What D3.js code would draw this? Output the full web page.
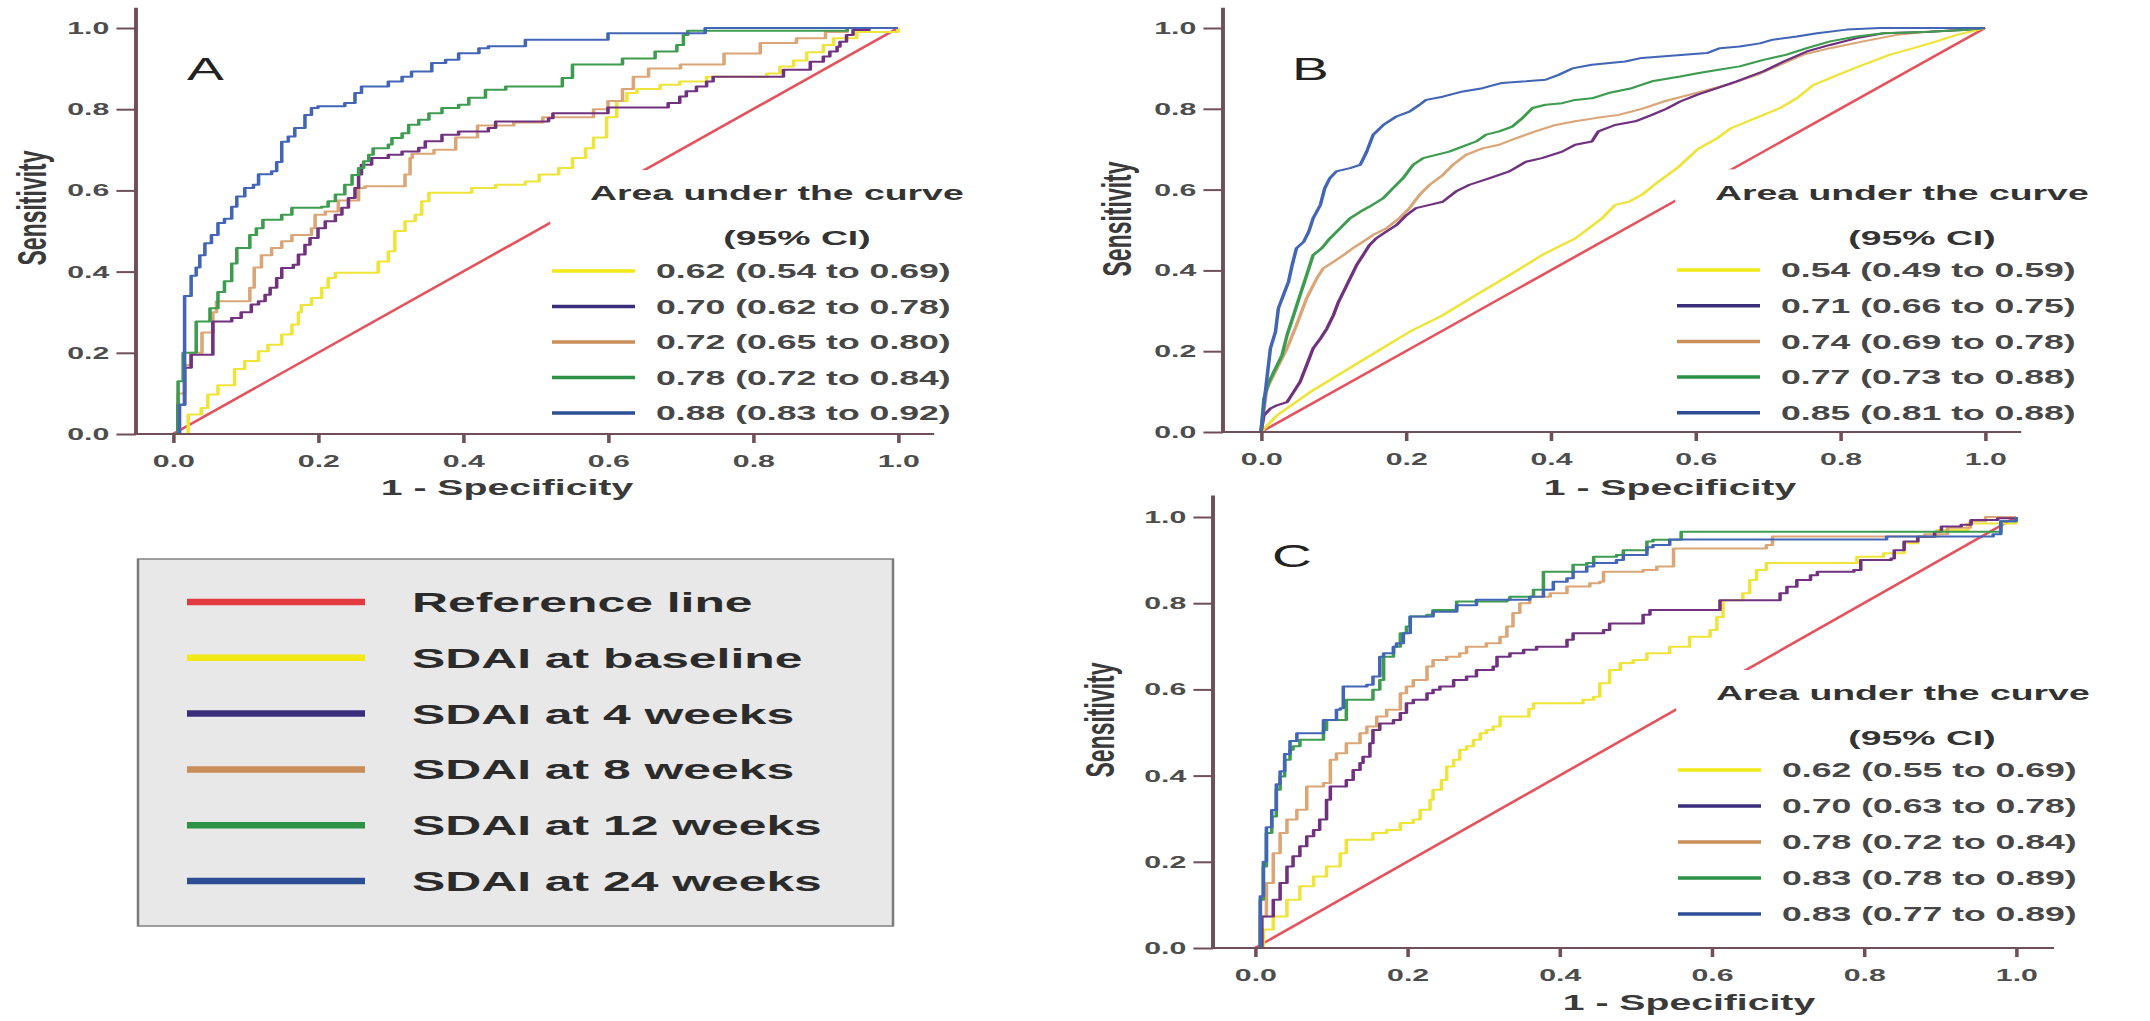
<!DOCTYPE html>
<html lang="en">
<head>
<meta charset="UTF-8">
<title>ROC curves of SDAI</title>
<script src="https://cdn.jsdelivr.net/npm/d3@7"></script>
<style>
  body { margin: 0; background: #fff; }
  svg { display: block; }
  text { font-family: "Liberation Sans", Arial, sans-serif; }
</style>
</head>
<body>
<script>
// series labels and tick values
var refName = "Reference line";
var seriesNames = ["SDAI at baseline", "SDAI at 4 weeks", "SDAI at 8 weeks", "SDAI at 12 weeks", "SDAI at 24 weeks"];
var ticks = [0, 0.2, 0.4, 0.6, 0.8, 1.0];
var refLine = [[0, 0], [1, 1]];

var aucA = ["0.62 (0.54 to 0.69)", "0.70 (0.62 to 0.78)", "0.72 (0.65 to 0.80)", "0.78 (0.72 to 0.84)", "0.88 (0.83 to 0.92)"];
var aucB = ["0.54 (0.49 to 0.59)", "0.71 (0.66 to 0.75)", "0.74 (0.69 to 0.78)", "0.77 (0.73 to 0.88)", "0.85 (0.81 to 0.88)"];
var aucC = ["0.62 (0.55 to 0.69)", "0.70 (0.63 to 0.78)", "0.78 (0.72 to 0.84)", "0.83 (0.78 to 0.89)", "0.83 (0.77 to 0.89)"];

// panel A  [1 - specificity, sensitivity]
var rocA_base = [[0,0],[.021,.048],[.039,.064],[.048,.097],[.062,.12],[.085,.16],[.099,.18],[.118,.204],[.131,.22],[.15,.245],[.164,.27],[.173,.30],[.177,.318],[.191,.335],[.205,.36],[.214,.384],[.224,.397],[.274,.397],[.283,.425],[.297,.45],[.306,.50],[.32,.524],[.334,.54],[.343,.573],[.353,.594],[.403,.594],[.412,.606],[.445,.614],[.486,.622],[.505,.639],[.532,.655],[.551,.68],[.569,.704],[.58,.73],[.598,.78],[.612,.82],[.626,.84],[.64,.85],[.672,.86],[.699,.868],[.736,.88],[.782,.88],[.819,.888],[.837,.905],[.856,.92],[.874,.94],[.897,.958],[.911,.975],[.943,.99],[1,1]];
var rocA_w4 = [[0,0],[.007,.072],[.016,.163],[.025,.195],[.055,.277],[.081,.286],[.094,.30],[.108,.319],[.118,.327],[.127,.343],[.134,.36],[.143,.384],[.15,.409],[.166,.417],[.173,.442],[.182,.466],[.189,.483],[.2,.507],[.21,.524],[.224,.54],[.233,.557],[.242,.581],[.251,.606],[.256,.639],[.26,.663],[.274,.68],[.297,.688],[.316,.696],[.339,.705],[.348,.721],[.371,.737],[.394,.745],[.435,.754],[.445,.77],[.518,.778],[.524,.79],[.6,.804],[.683,.815],[.699,.831],[.708,.844],[.722,.856],[.736,.868],[.745,.88],[.842,.897],[.879,.917],[.897,.93],[.906,.942],[.916,.954],[.92,.966],[.929,.983],[.938,.995],[.96,1],[1,1]];
var rocA_w8 = [[0,0],[.007,.10],[.016,.17],[.025,.20],[.04,.25],[.055,.30],[.06,.327],[.1,.327],[.106,.36],[.112,.41],[.122,.44],[.136,.458],[.15,.475],[.164,.49],[.191,.507],[.196,.54],[.21,.548],[.228,.575],[.256,.606],[.265,.61],[.311,.61],[.32,.639],[.327,.68],[.33,.69],[.36,.70],[.39,.73],[.42,.76],[.47,.767],[.51,.78],[.58,.80],[.60,.82],[.62,.85],[.635,.88],[.656,.90],[.70,.91],[.76,.937],[.81,.963],[.86,.975],[.90,.99],[.93,1],[1,1]];
var rocA_w12 = [[0,0],[.007,.13],[.014,.2],[.032,.277],[.051,.31],[.062,.35],[.071,.376],[.081,.42],[.088,.458],[.106,.49],[.115,.507],[.124,.528],[.15,.54],[.164,.557],[.205,.56],[.214,.573],[.224,.59],[.237,.614],[.247,.638],[.256,.655],[.263,.672],[.27,.688],[.276,.704],[.297,.713],[.302,.729],[.316,.741],[.325,.762],[.339,.774],[.353,.79],[.371,.803],[.394,.811],[.408,.828],[.431,.848],[.459,.856],[.532,.856],[.537,.877],[.551,.91],[.62,.925],[.665,.942],[.695,.958],[.704,.983],[.71,.993],[.93,1],[1,1]];
var rocA_w24 = [[0,0],[.009,.072],[.016,.34],[.025,.39],[.032,.41],[.037,.44],[.044,.47],[.053,.49],[.062,.52],[.071,.53],[.081,.56],[.088,.585],[.099,.606],[.111,.614],[.118,.64],[.136,.647],[.143,.67],[.15,.72],[.159,.733],[.168,.754],[.182,.786],[.191,.803],[.2,.807],[.228,.807],[.237,.815],[.251,.84],[.26,.856],[.288,.856],[.297,.868],[.316,.88],[.329,.893],[.357,.914],[.376,.922],[.394,.938],[.422,.95],[.435,.955],[.482,.955],[.486,.971],[.596,.971],[.6,.987],[.73,.987],[.734,1],[1,1]];

// panel B
var rocB_base = [[0,0],[.022,.041],[.068,.099],[.114,.149],[.159,.198],[.205,.248],[.251,.289],[.297,.339],[.343,.388],[.388,.438],[.434,.479],[.471,.529],[.489,.562],[.508,.57],[.526,.587],[.549,.62],[.576,.655],[.603,.70],[.63,.727],[.649,.752],[.671,.768],[.694,.785],[.717,.802],[.74,.826],[.763,.859],[.786,.876],[.809,.893],[.832,.909],[.869,.934],[.901,.95],[.933,.967],[.961,.983],[1,1]];
var rocB_w4 = [[0,0],[.004,.041],[.013,.058],[.022,.066],[.036,.074],[.045,.099],[.054,.124],[.063,.165],[.072,.207],[.082,.231],[.091,.256],[.1,.289],[.107,.322],[.114,.347],[.123,.38],[.132,.413],[.141,.438],[.15,.463],[.159,.479],[.173,.496],[.187,.512],[.201,.537],[.214,.554],[.233,.562],[.251,.57],[.269,.595],[.288,.612],[.315,.628],[.343,.645],[.366,.669],[.388,.678],[.416,.694],[.434,.711],[.457,.719],[.466,.744],[.489,.76],[.517,.769],[.54,.785],[.56,.80],[.579,.818],[.603,.835],[.63,.851],[.657,.868],[.694,.893],[.722,.917],[.754,.942],[.786,.958],[.823,.975],[.86,.987],[.915,.99],[.97,.995],[1,1]];
var rocB_w8 = [[0,0],[.008,.107],[.022,.157],[.036,.207],[.049,.264],[.063,.331],[.077,.38],[.086,.405],[.1,.421],[.114,.438],[.127,.455],[.141,.471],[.155,.488],[.173,.504],[.191,.529],[.205,.554],[.219,.587],[.233,.612],[.251,.636],[.265,.661],[.283,.686],[.306,.702],[.329,.711],[.352,.727],[.379,.744],[.407,.76],[.434,.769],[.462,.777],[.494,.785],[.526,.80],[.556,.818],[.603,.84],[.649,.862],[.685,.884],[.717,.909],[.749,.934],[.786,.95],[.832,.967],[.878,.983],[.924,.991],[1,1]];
var rocB_w12 = [[0,0],[.004,.083],[.011,.124],[.02,.157],[.029,.19],[.036,.24],[.045,.289],[.054,.339],[.063,.388],[.072,.438],[.084,.455],[.095,.479],[.109,.504],[.123,.529],[.137,.545],[.15,.558],[.169,.579],[.182,.603],[.196,.628],[.21,.661],[.224,.678],[.242,.686],[.26,.694],[.279,.707],[.297,.719],[.311,.736],[.329,.744],[.347,.756],[.361,.777],[.375,.802],[.393,.81],[.416,.814],[.434,.822],[.457,.826],[.48,.839],[.512,.851],[.54,.868],[.579,.88],[.603,.888],[.63,.896],[.661,.905],[.694,.921],[.726,.934],[.754,.95],[.786,.967],[.823,.979],[.86,.987],[.924,.991],[.97,.995],[1,1]];
var rocB_w24 = [[0,0],[.006,.099],[.013,.207],[.02,.248],[.024,.306],[.031,.339],[.038,.372],[.043,.413],[.049,.455],[.059,.471],[.066,.496],[.072,.529],[.082,.562],[.088,.603],[.095,.628],[.104,.645],[.123,.653],[.137,.661],[.146,.694],[.155,.736],[.169,.76],[.187,.781],[.205,.793],[.219,.81],[.228,.822],[.251,.83],[.279,.843],[.306,.851],[.333,.864],[.366,.868],[.393,.872],[.411,.884],[.43,.90],[.457,.909],[.503,.917],[.526,.926],[.616,.938],[.634,.95],[.661,.954],[.689,.962],[.707,.971],[.74,.979],[.768,.987],[.809,.996],[.855,1],[1,1]];

// panel C
var rocC_base = [[0,0],[.011,.043],[.024,.073],[.042,.112],[.059,.143],[.077,.166],[.094,.189],[.112,.22],[.12,.251],[.155,.267],[.173,.274],[.191,.29],[.208,.298],[.217,.321],[.23,.344],[.234,.367],[.245,.39],[.252,.421],[.261,.437],[.269,.46],[.278,.468],[.287,.483],[.296,.498],[.304,.506],[.313,.514],[.322,.537],[.344,.537],[.36,.555],[.366,.568],[.41,.568],[.431,.576],[.445,.583],[.453,.614],[.466,.645],[.48,.661],[.497,.668],[.515,.684],[.545,.699],[.571,.722],[.598,.738],[.607,.768],[.615,.807],[.641,.823],[.65,.854],[.659,.877],[.672,.893],[.782,.893],[.791,.908],[.826,.916],[.853,.939],[.871,.954],[.897,.97],[.937,.985],[1,1]];
var rocC_w4 = [[0,0],[.009,.073],[.02,.073],[.024,.112],[.033,.151],[.042,.189],[.05,.213],[.059,.236],[.068,.259],[.077,.274],[.085,.298],[.094,.344],[.099,.375],[.112,.375],[.12,.39],[.129,.413],[.138,.429],[.142,.444],[.151,.475],[.155,.506],[.164,.521],[.182,.529],[.191,.545],[.199,.568],[.208,.576],[.226,.591],[.234,.599],[.243,.607],[.261,.622],[.278,.63],[.291,.645],[.313,.653],[.318,.676],[.335,.684],[.353,.692],[.37,.699],[.41,.715],[.418,.73],[.458,.738],[.466,.753],[.502,.753],[.51,.773],[.519,.784],[.607,.784],[.611,.807],[.681,.807],[.69,.823],[.699,.838],[.712,.854],[.73,.865],[.739,.873],[.787,.877],[.796,.9],[.836,.904],[.84,.923],[.853,.943],[.871,.954],[.893,.966],[.902,.978],[.928,.982],[.941,.993],[.976,.997],[1,1]];
var rocC_w8 = [[0,0],[.007,.073],[.015,.151],[.024,.22],[.033,.267],[.042,.298],[.055,.321],[.068,.375],[.09,.383],[.099,.437],[.107,.452],[.12,.475],[.138,.498],[.147,.514],[.16,.537],[.173,.553],[.191,.591],[.199,.607],[.208,.622],[.226,.653],[.234,.668],[.252,.676],[.269,.684],[.278,.699],[.304,.707],[.322,.722],[.331,.746],[.339,.777],[.348,.80],[.361,.815],[.388,.823],[.41,.839],[.44,.846],[.453,.85],[.458,.873],[.51,.877],[.528,.885],[.55,.927],[.672,.935],[.68,.955],[.88,.96],[.91,.975],[.94,.99],[.96,1],[1,1]];
var rocC_w12 = [[0,0],[.007,.112],[.011,.189],[.015,.267],[.022,.305],[.028,.367],[.033,.398],[.039,.437],[.046,.46],[.05,.468],[.059,.483],[.081,.483],[.09,.506],[.094,.529],[.116,.529],[.12,.576],[.147,.576],[.155,.599],[.164,.622],[.169,.676],[.182,.699],[.191,.73],[.199,.746],[.204,.769],[.226,.773],[.234,.784],[.261,.784],[.265,.804],[.331,.808],[.335,.815],[.361,.815],[.366,.831],[.379,.873],[.41,.873],[.418,.889],[.436,.893],[.445,.908],[.475,.912],[.484,.923],[.51,.923],[.515,.943],[.523,.947],[.56,.966],[.975,.966],[.98,.99],[1,1]];
var rocC_w24 = [[0,0],[.007,.12],[.011,.2],[.015,.28],[.022,.32],[.028,.38],[.033,.41],[.039,.45],[.046,.48],[.055,.498],[.081,.498],[.09,.529],[.107,.553],[.112,.556],[.116,.607],[.147,.611],[.155,.63],[.164,.676],[.169,.684],[.182,.699],[.186,.707],[.195,.73],[.204,.769],[.226,.769],[.234,.78],[.261,.78],[.265,.795],[.291,.808],[.345,.808],[.361,.815],[.379,.831],[.392,.85],[.41,.858],[.418,.873],[.436,.885],[.445,.893],[.475,.9],[.484,.912],[.51,.912],[.515,.93],[.523,.935],[.545,.948],[.826,.948],[.83,.955],[.97,.96],[.98,.99],[1,1]];

// colours
var refColor = "#e4525c";
var seriesColors = ["#eee43a", "#70327f", "#dba677", "#3d9c50", "#4266b5"];
var legendColors = ["#f2e914", "#3a2d7b", "#c98d5a", "#2d9146", "#2c4e94"];
var axisColor = "#6e4f5a";

// the source figure is stretched horizontally, so draw in a squeezed box
var SX = 1.78;
function px(v) { return v / SX; }

var svg = d3.select("body").append("svg")
  .attr("width", 2150)
  .attr("height", 1021)
  .attr("viewBox", "0 0 " + (2150 / SX) + " 1021")
  .attr("preserveAspectRatio", "none");

var panels = [
  { letter: "A", curves: [rocA_base, rocA_w4, rocA_w8, rocA_w12, rocA_w24], auc: aucA, step: true,
    x0: 173, x1: 898, y0: 434, y1: 28, axisX: 136, letterX: 187, letterY: 80,
    yTitle: [32, 208], xTitle: [507, 495], legX: 552, legTop: 0.65, titleY: 200, ciX: 797, ciY: 245, rowY: 271, rowGap: 35.5 },
  { letter: "B", curves: [rocB_base, rocB_w4, rocB_w8, rocB_w12, rocB_w24], auc: aucB, step: false,
    x0: 1261, x1: 1985, y0: 432, y1: 28, axisX: 1223, letterX: 1292, letterY: 80,
    yTitle: [1117, 219], xTitle: [1670, 495], legX: 1677, legTop: 0.65, titleY: 200, ciX: 1922, ciY: 245, rowY: 270, rowGap: 35.7 },
  { letter: "C", curves: [rocC_base, rocC_w4, rocC_w8, rocC_w12, rocC_w24], auc: aucC, step: true,
    x0: 1255, x1: 2016, y0: 948, y1: 517, axisX: 1213, letterX: 1272, letterY: 567,
    yTitle: [1100, 720], xTitle: [1689, 1010], legX: 1678, legTop: 0.645, titleY: 700, ciX: 1922, ciY: 745, rowY: 770, rowGap: 36 }
];

var drawOrder = [0, 2, 1, 3, 4];

panels.forEach(drawPanel);
drawLegendBox();

function drawPanel(p) {
  var x = d3.scaleLinear().domain([0, 1]).range([px(p.x0), px(p.x1)]);
  var y = d3.scaleLinear().domain([0, 1]).range([p.y0, p.y1]);
  var g = svg.append("g");

  var line = d3.line()
    .x(function(d) { return x(d[0]); })
    .y(function(d) { return y(d[1]); });

  g.append("path")
    .attr("d", line.curve(d3.curveLinear)(refLine))
    .attr("fill", "none")
    .attr("stroke", refColor)
    .attr("stroke-width", 2.1);

  // white block behind the AUC legend hides the reference line
  g.append("rect")
    .attr("x", px(p.legX) - 1)
    .attr("y", y(p.legTop))
    .attr("width", x(1.12) - px(p.legX))
    .attr("height", y(0.01) - y(p.legTop))
    .attr("fill", "#fff");

  line.curve(p.step ? d3.curveStepAfter : d3.curveLinear);
  drawOrder.forEach(function(i) {
    g.append("path")
      .attr("d", line(p.curves[i]))
      .attr("fill", "none")
      .attr("stroke", seriesColors[i])
      .attr("stroke-width", 2)
      .attr("stroke-linejoin", "round");
  });

  // axes
  var yAxis = d3.axisLeft(y).tickValues(ticks).tickFormat(d3.format(".1f")).tickSize(11).tickPadding(4);
  var xAxis = d3.axisBottom(x).tickValues(ticks).tickFormat(d3.format(".1f")).tickSize(9).tickPadding(12);
  var ya = g.append("g").attr("transform", "translate(" + px(p.axisX) + ",0)").call(yAxis);
  var xa = g.append("g").attr("transform", "translate(0," + y(0) + ")").call(xAxis);
  [ya, xa].forEach(function(a) {
    a.select(".domain").remove();
    a.selectAll(".tick line").attr("stroke", axisColor).attr("stroke-width", 2);
    a.selectAll(".tick text")
      .attr("fill", "#4d4d4d")
      .attr("font-size", 17)
      .attr("font-weight", "bold")
      .attr("font-family", "'Liberation Sans', Arial, sans-serif");
  });

  g.append("line")
    .attr("x1", px(p.axisX)).attr("x2", px(p.axisX))
    .attr("y1", y(1.05)).attr("y2", y(0))
    .attr("stroke", axisColor).attr("stroke-width", 2.2);
  g.append("line")
    .attr("x1", px(p.axisX)).attr("x2", x(1.05))
    .attr("y1", y(0)).attr("y2", y(0))
    .attr("stroke", axisColor).attr("stroke-width", 2.2);

  // titles
  g.append("text")
    .attr("transform", "translate(" + px(p.yTitle[0]) + "," + p.yTitle[1] + ") rotate(-90)")
    .attr("text-anchor", "middle")
    .attr("dy", "0.35em")
    .attr("font-size", 23)
    .attr("font-weight", "bold")
    .attr("fill", "#3a3a3a")
    .text("Sensitivity");
  g.append("text")
    .attr("x", px(p.xTitle[0]))
    .attr("y", p.xTitle[1])
    .attr("text-anchor", "middle")
    .attr("font-size", 22)
    .attr("font-weight", "bold")
    .attr("fill", "#3a3a3a")
    .text("1 - Specificity");
  g.append("text")
    .attr("x", px(p.letterX))
    .attr("y", p.letterY)
    .attr("font-size", 31)
    .attr("fill", "#222")
    .text(p.letter);

  // AUC legend
  g.append("text")
    .attr("x", px(p.legX + 38))
    .attr("y", p.titleY)
    .attr("font-size", 21)
    .attr("font-weight", "bold")
    .attr("fill", "#333")
    .text("Area under the curve");
  g.append("text")
    .attr("x", px(p.ciX))
    .attr("y", p.ciY)
    .attr("text-anchor", "middle")
    .attr("font-size", 21)
    .attr("font-weight", "bold")
    .attr("fill", "#333")
    .text("(95% CI)");

  var rows = g.selectAll("g.auc").data(p.auc).enter().append("g")
    .attr("class", "auc")
    .attr("transform", function(d, i) { return "translate(0," + (p.rowY + i * p.rowGap) + ")"; });
  rows.append("line")
    .attr("x1", px(p.legX)).attr("x2", px(p.legX + 83))
    .attr("stroke", function(d, i) { return legendColors[i]; })
    .attr("stroke-width", 3.5);
  rows.append("text")
    .attr("x", px(p.legX + 104))
    .attr("dy", "0.36em")
    .attr("font-size", 20)
    .attr("font-weight", "bold")
    .attr("fill", "#474747")
    .text(function(d) { return d; });
}

function drawLegendBox() {
  var names = [refName].concat(seriesNames);
  var colors = ["#e23a40"].concat(legendColors);
  var g = svg.append("g");
  g.append("rect")
    .attr("x", px(138)).attr("y", 559)
    .attr("width", px(893 - 138)).attr("height", 926 - 559)
    .attr("fill", "#e8e8e8")
    .attr("stroke", "#7a7a7a")
    .attr("stroke-width", 1.4);
  var rows = g.selectAll("g.item").data(names).enter().append("g")
    .attr("class", "item")
    .attr("transform", function(d, i) { return "translate(0," + (602 + i * 55.8) + ")"; });
  rows.append("line")
    .attr("x1", px(187)).attr("x2", px(365))
    .attr("stroke", function(d, i) { return colors[i]; })
    .attr("stroke-width", 6.5);
  rows.append("text")
    .attr("x", px(412))
    .attr("dy", "0.36em")
    .attr("font-size", 28)
    .attr("font-weight", "bold")
    .attr("fill", "#2b2b2b")
    .text(function(d) { return d; });
}
</script>
</body>
</html>
